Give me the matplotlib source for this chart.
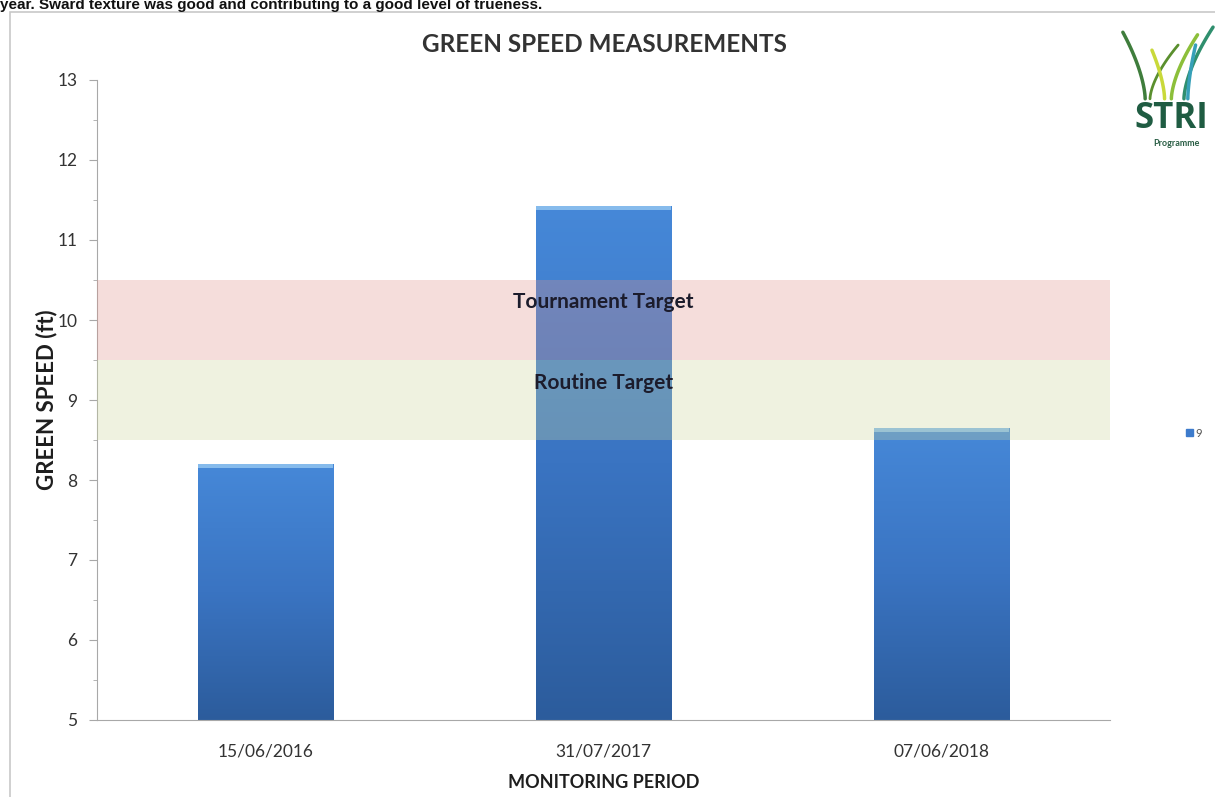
import numpy as np
import matplotlib.pyplot as plt
from matplotlib.colors import LinearSegmentedColormap
from matplotlib.patches import Rectangle
from matplotlib.lines import Line2D

dates = ['15/06/2016', '31/07/2017', '07/06/2018']
speeds = [8.2, 11.42, 8.65]
series_name = '9'

routine_band = (8.5, 9.5)
tournament_band = (9.5, 10.5)

plt.rcParams['font.family'] = ['Lato', 'DejaVu Sans']

fig = plt.figure(figsize=(12.15, 7.97), dpi=100)
ax = fig.add_axes([97 / 1215, 1 - 720 / 797, 1013 / 1215, 640 / 797])

# outer chart frame
fig.patches.append(Rectangle((10 / 1215, -0.01), 1.02, 1 - 12 / 797 + 0.01,
                             transform=fig.transFigure, fill=False,
                             edgecolor='#c8c8c8', linewidth=1.2, zorder=0))
fig.text(0.0, 1 - 9 / 797,
         'year. Sward texture was good and contributing to a good level of trueness.',
         fontsize=11, fontweight='bold', family=['Liberation Sans'],
         va='baseline', ha='left', color='#111111')

x = np.arange(len(dates))
bars = ax.bar(x, speeds, width=0.4, bottom=0, color='#3d7bcc', zorder=2,
              edgecolor='#2f5f9e', linewidth=0.6)

# vertical shading on each bar
cmap = LinearSegmentedColormap.from_list('bar', ['#2c5c9c', '#3a74c2', '#4688d8'])
grad = np.linspace(0, 1, 256).reshape(-1, 1)
for b, v in zip(bars, speeds):
    x0 = b.get_x()
    x1 = x0 + b.get_width()
    im = ax.imshow(grad, extent=[x0, x1, 5, v], origin='lower', aspect='auto',
                   cmap=cmap, zorder=2.1)
    im.set_clip_path(b)
    # light cap along the top edge
    ax.fill_between([x0, x1], v - 0.05, v, color='#86bbec', zorder=2.2, linewidth=0)

ax.set_xlim(-0.5, 2.5)
ax.set_ylim(5, 13)

ax.axhspan(*tournament_band, color='#de918a', alpha=0.3, zorder=3, linewidth=0)
ax.axhspan(*routine_band, color='#cdd79b', alpha=0.3, zorder=3, linewidth=0)
ax.text(1, sum(tournament_band) / 2 + 0.23, 'Tournament Target', ha='center', va='center',
        fontsize=15, fontweight='bold', color='#1c1c2c', zorder=4)
ax.text(1, sum(routine_band) / 2 + 0.21, 'Routine Target', ha='center', va='center',
        fontsize=15, fontweight='bold', color='#1c1c2c', zorder=4)

ax.set_xticks(x)
ax.set_xticklabels(dates)
ax.set_yticks(range(5, 14))
ax.set_yticks(np.arange(5.5, 13, 1.0), minor=True)
for s in ['top', 'right']:
    ax.spines[s].set_visible(False)
for s in ['left', 'bottom']:
    ax.spines[s].set_color('#a8a8a8')
ax.tick_params(axis='y', which='major', length=6, color='#a8a8a8', labelsize=12.5,
               labelcolor='#333333', pad=8)
ax.tick_params(axis='y', which='minor', length=3, color='#a8a8a8')
ax.tick_params(axis='x', length=0, labelsize=12.5, labelcolor='#333333', pad=17)

ax.set_xlabel('MONITORING PERIOD', fontsize=13, fontweight='bold', color='#1e1e1e', labelpad=10)
ax.set_ylabel('GREEN SPEED (ft)', fontsize=16, fontweight='bold', color='#1e1e1e', labelpad=0)
fig.text(604 / 1215, 1 - 44 / 797, 'GREEN SPEED MEASUREMENTS', ha='center', va='center',
         fontsize=17.5, fontweight='bold', color='#333333')

ax.legend(handles=[Rectangle((0, 0), 1, 1, color='#3d7bcc')], labels=[series_name],
          loc='center left', bbox_to_anchor=(1.065, 0.448), frameon=False,
          handlelength=0.6, handleheight=0.6, handletextpad=0.3, fontsize=8,
          labelcolor='#555555')

# STRI logo
lax = fig.add_axes([1118 / 1215, 1 - 150 / 797, 97 / 1215, 128 / 797])
lax.set_xlim(0, 1)
lax.set_ylim(0, 1)
lax.axis('off')
t = np.linspace(0, 1, 50)
strokes = [
    ((0.28, 0.40), (0.05, 0.92), '#3f7d3c', 2.5),
    ((0.33, 0.40), (0.62, 0.82), '#5a8f2e', 2.0),
    ((0.48, 0.40), (0.35, 0.78), '#c9d93a', 2.5),
    ((0.55, 0.40), (0.82, 0.90), '#8cbf3a', 2.5),
    ((0.68, 0.40), (0.98, 0.96), '#2f8f6e', 2.5),
    ((0.72, 0.40), (0.80, 0.82), '#36a0b8', 2.5),
]
for (bx, by), (tx, ty), c, lw in strokes:
    xs = bx + (tx - bx) * t ** 1.6
    ys = by + (ty - by) * t
    lax.add_line(Line2D(xs, ys, color=c, linewidth=lw, solid_capstyle='round'))
lax.text(0.55, 0.24, 'STRI', ha='center', va='center', fontsize=25, fontweight='bold',
         color='#1f5c42', family=['Open Sans', 'DejaVu Sans'])
lax.text(0.6, 0.05, 'Programme', ha='center', va='center', fontsize=6.5, fontweight='bold',
         color='#2a5e45')

fig.savefig('out.png', dpi=100)
